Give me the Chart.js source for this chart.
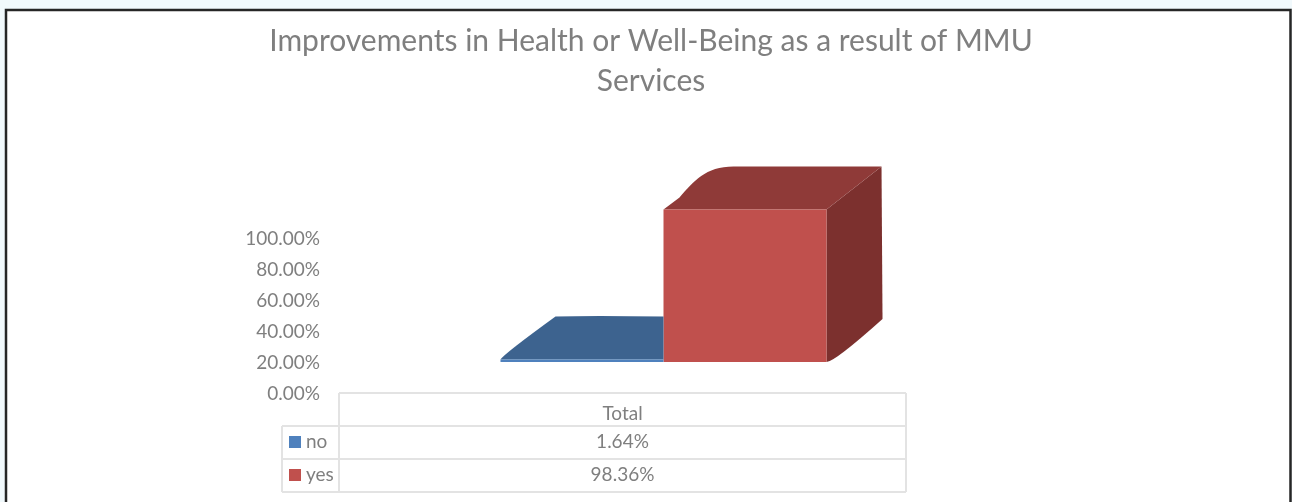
<!DOCTYPE html>
<html>
<head>
<meta charset="utf-8">
<title>Improvements in Health or Well-Being</title>
<style>
  html, body { margin: 0; padding: 0; background: #f1f9fc; overflow: hidden; }
  canvas { display: block; }
</style>
<script src="https://cdn.jsdelivr.net/npm/chart.js@4"></script>
</head>
<body>
<canvas id="chart" width="1292" height="502"></canvas>
<script>
const titleLines = ["Improvements in Health or Well-Being as a result of MMU", "Services"];
const categories = ["Total"];
const seriesNames = ["no", "yes"];
const noValues = [1.64];
const yesValues = [98.36];

const FONT = "Lato";
const GREY = "#7f7f7f";
const LINE = "#e3e3e3";

const frontColors = ["#4f81bd", "#c0504d"];
const topColors = ["#3d638f", "#8f3a38"];
const sideColor = "#7c302e";

// the 3d box sits up and right of the axis, like the office chart does it
const SHIFT_X = 41;
const SHIFT_Y = -32;
const DEPTH_X = 55;
const DEPTH_Y = -43;

function poly(ctx, color, draw) {
    ctx.fillStyle = color;
    ctx.beginPath();
    draw();
    ctx.closePath();
    ctx.fill();
}

const boxFaces = {
    id: "boxFaces",
    beforeDatasetsDraw(chart) {
        chart.ctx.save();
        chart.ctx.translate(SHIFT_X, SHIFT_Y);
    },
    beforeDatasetDraw(chart, args) {
        const ctx = chart.ctx;
        const bar = args.meta.data[0];
        const left = bar.x - bar.width / 2;
        const right = bar.x + bar.width / 2;
        const top = bar.y;
        const bottom = bar.base;

        if (args.index === 0) {
            // blue box: the part behind the red one is never seen, so stop at its edge
            poly(ctx, topColors[0], () => {
                ctx.moveTo(left, top);
                ctx.quadraticCurveTo(left + 4, top - 6, left + DEPTH_X, top + DEPTH_Y);
                ctx.quadraticCurveTo(left + 90, top + DEPTH_Y - 1, right, top + DEPTH_Y);
                ctx.lineTo(right, top);
            });
            return;
        }

        poly(ctx, sideColor, () => {
            ctx.moveTo(right, top);
            ctx.lineTo(right + DEPTH_X, top + DEPTH_Y);
            ctx.lineTo(right + DEPTH_X + 1, bottom + DEPTH_Y);
            ctx.quadraticCurveTo(right + 8, bottom, right, bottom);
        });
        poly(ctx, topColors[1], () => {
            ctx.moveTo(left, top);
            // rounded back corner on the red box
            ctx.lineTo(left + 16, top - 12);
            ctx.bezierCurveTo(left + 30, top - 28, left + 42, top - 43, left + 70, top - 43);
            ctx.lineTo(right + DEPTH_X, top + DEPTH_Y);
            ctx.lineTo(right, top);
        });
    },
    afterDatasetsDraw(chart) {
        chart.ctx.restore();
    }
};

const frame = {
    id: "frame",
    beforeDraw(chart) {
        const ctx = chart.ctx;
        ctx.save();
        ctx.fillStyle = "#ffffff";
        ctx.fillRect(6, 10, 1285, 492);
        ctx.strokeStyle = "#262626";
        ctx.lineWidth = 2.5;
        ctx.beginPath();
        ctx.moveTo(6, 502);
        ctx.lineTo(6, 10);
        ctx.lineTo(1290.5, 10);
        ctx.lineTo(1290.5, 502);
        ctx.stroke();
        ctx.restore();
    }
};

const dataTable = {
    id: "dataTable",
    afterDraw(chart) {
        const ctx = chart.ctx;
        const a = chart.chartArea;
        const rowH = 33;
        const top = a.bottom - 1;
        const keyLeft = 282;
        const midX = (a.left + a.right) / 2;
        const rows = [noValues[0], yesValues[0]];

        ctx.save();
        ctx.strokeStyle = LINE;
        ctx.lineWidth = 2;
        ctx.beginPath();
        ctx.moveTo(a.left, top);
        ctx.lineTo(a.right, top);
        ctx.moveTo(a.left, top);
        ctx.lineTo(a.left, top + rowH * 3);
        ctx.moveTo(a.right, top);
        ctx.lineTo(a.right, top + rowH * 3);
        ctx.moveTo(keyLeft, top + rowH);
        ctx.lineTo(keyLeft, top + rowH * 3);
        for (let r = 1; r <= 3; r++) {
            ctx.moveTo(keyLeft, top + rowH * r);
            ctx.lineTo(a.right, top + rowH * r);
        }
        ctx.stroke();

        ctx.font = "19px " + FONT;
        ctx.fillStyle = GREY;
        ctx.textBaseline = "middle";
        ctx.textAlign = "center";
        ctx.fillText(categories[0], midX, top + 21);

        rows.forEach((val, r) => {
            const y = top + rowH * (r + 1) + 16;
            ctx.fillStyle = GREY;
            ctx.textAlign = "center";
            ctx.fillText(val.toFixed(2) + "%", midX, y);
            ctx.textAlign = "left";
            ctx.fillText(seriesNames[r], keyLeft + 24, y);
            ctx.fillStyle = frontColors[r];
            ctx.fillRect(keyLeft + 7, y - 6, 12, 12);
        });
        ctx.restore();
    }
};

new Chart(document.getElementById("chart"), {
    type: "bar",
    data: {
        labels: categories,
        datasets: [
            { label: seriesNames[0], data: noValues, backgroundColor: frontColors[0] },
            { label: seriesNames[1], data: yesValues, backgroundColor: frontColors[1] }
        ]
    },
    options: {
        responsive: false,
        animation: false,
        devicePixelRatio: 1,
        layout: { padding: { left: 10, top: 21, right: 0, bottom: 108 } },
        barPercentage: 1,
        categoryPercentage: 0.575,
        plugins: {
            legend: { display: false },
            tooltip: { enabled: false },
            title: {
                display: true,
                text: titleLines,
                color: GREY,
                font: { family: FONT, size: 30, weight: "normal", lineHeight: 1.333 },
                padding: { top: 0, bottom: 138 }
            }
        },
        scales: {
            x: { display: false },
            y: {
                min: 0,
                max: 100,
                afterFit(scale) { scale.width = 329; },
                grid: { display: false },
                border: { display: false },
                ticks: {
                    stepSize: 20,
                    padding: 11,
                    color: GREY,
                    font: { family: FONT, size: 19 },
                    callback: v => v.toFixed(2) + "%"
                }
            },
            // empty axis only holds the space right of the table so the title stays centred
            spacer: {
                position: "right",
                afterFit(scale) { scale.width = 386; },
                grid: { display: false },
                border: { display: false },
                ticks: { display: false }
            }
        }
    },
    plugins: [frame, boxFaces, dataTable]
});
</script>
</body>
</html>
